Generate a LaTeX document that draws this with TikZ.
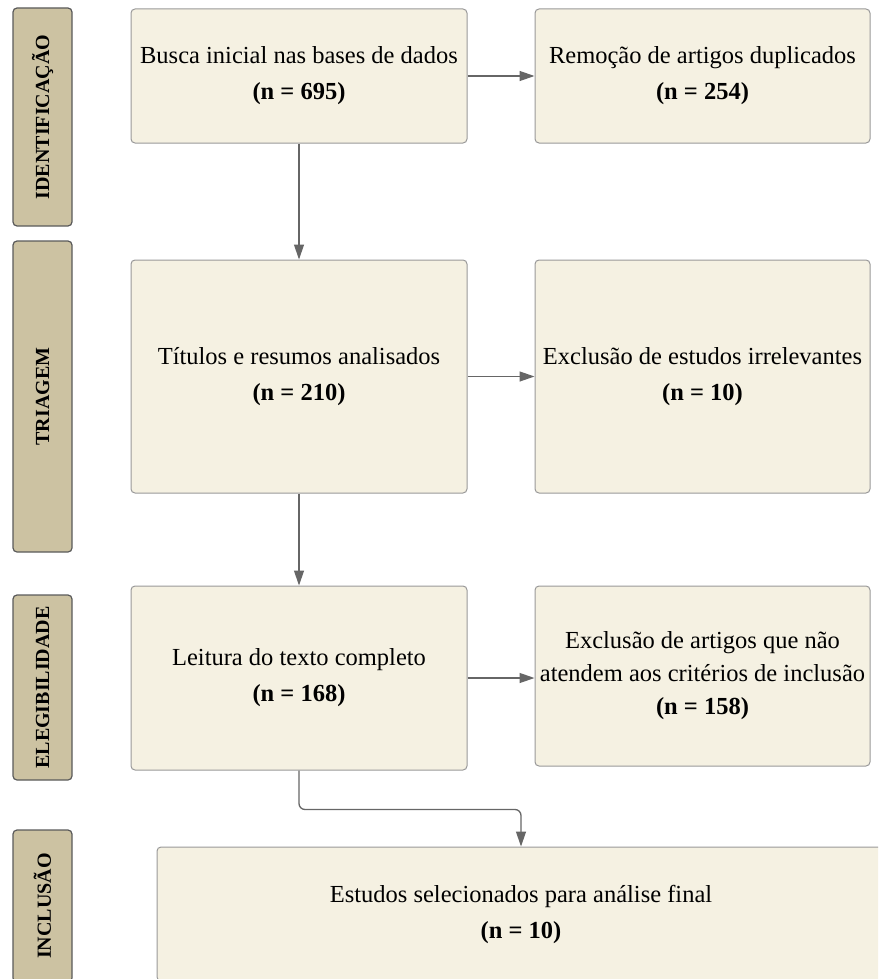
\documentclass[tikz,border=0pt]{standalone}
\usepackage{fontspec}
\setmainfont{Liberation Serif}
\usetikzlibrary{arrows.meta}
\definecolor{boxfill}{HTML}{F5F1E2}
\definecolor{boxline}{HTML}{999999}
\definecolor{barfill}{HTML}{CCC2A2}
\definecolor{barline}{HTML}{5A5A5A}
\definecolor{arrcol}{HTML}{666666}
\begin{document}
\begin{tikzpicture}[x=1pt,y=-1pt,
  stagebox/.style={draw=boxline, fill=boxfill, line width=1pt, rounded corners=4pt,
    inner sep=0pt, align=center, font=\fontsize{24.5}{36}\selectfont},
  phasebar/.style={draw=barline, fill=barfill, line width=1.2pt, rounded corners=4pt,
    inner sep=0pt, minimum height=59pt, rotate=90,
    font=\bfseries\fontsize{20}{20}\selectfont},
  arr/.style={draw=arrcol, line width=1.3pt, -{Triangle[length=15pt,width=10pt]}}]
\useasboundingbox (0,0) rectangle (878,979);
\clip (0,0) rectangle (878,979);

% phase bars
\node[phasebar, minimum width=218pt] (p1) at (42.5,117) {IDENTIFICAÇÃO};
\node[phasebar, minimum width=311pt] (p2) at (42.5,396.5) {TRIAGEM};
\node[phasebar, minimum width=185pt] (p3) at (42.5,687.5) {ELEGIBILIDADE};
\node[phasebar, minimum width=152pt] (p4) at (42.5,906) {INCLUSÃO};

% boxes
\node[stagebox, minimum width=336pt, minimum height=134pt] (b1) at (299,76)
  {Busca inicial nas bases de dados\\\textbf{(n = 695)}};
\node[stagebox, minimum width=335pt, minimum height=134pt] (b2) at (702.5,76)
  {Remoção de artigos duplicados\\\textbf{(n = 254)}};
\node[stagebox, minimum width=336pt, minimum height=233pt] (b3) at (299,376.5)
  {Títulos e resumos analisados\\\textbf{(n = 210)}};
\node[stagebox, minimum width=335pt, minimum height=233pt] (b4) at (702.5,376.5)
  {Exclusão de estudos irrelevantes\\\textbf{(n = 10)}};
\node[stagebox, minimum width=336pt, minimum height=184pt] (b5) at (299,678)
  {Leitura do texto completo\\\textbf{(n = 168)}};
\node[stagebox, minimum width=335pt, minimum height=180pt,
  font=\fontsize{24.5}{33}\selectfont] (b6) at (702.5,676)
  {Exclusão de artigos que não\\atendem aos critérios de inclusão\\\textbf{(n = 158)}};
\node[stagebox, minimum width=728pt, minimum height=134pt] (b7) at (521,914)
  {Estudos selecionados para análise final\\\textbf{(n = 10)}};

% connectors
\draw[arr] (b1.east) -- (b2.west);
\draw[arr] (b1.south) -- (b3.north);
\draw[arr] (b3.east) -- (b4.west);
\draw[arr] (b3.south) -- (b5.north);
\draw[arr] (b5.east) -- (b6.west |- b5.east);
\draw[arr, rounded corners=6pt] (b5.south) -- ++(0,39) -| (b7.north);
\end{tikzpicture}
\end{document}
